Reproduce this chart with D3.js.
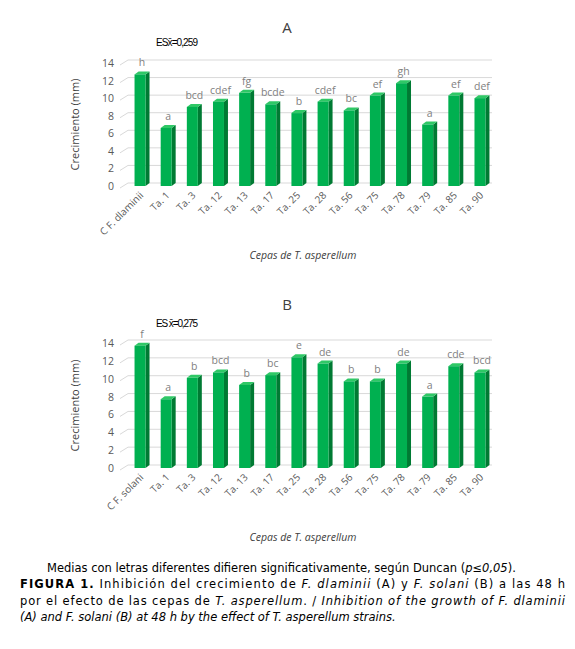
<!DOCTYPE html><html><head><meta charset="utf-8"><script src="https://cdn.jsdelivr.net/npm/d3@7"></script>
<style>body{margin:0;background:#fff;font-family:Verdana,"DejaVu Sans",sans-serif}</style></head><body><svg id="c" width="575" height="649"></svg>
<script>
const catsA=["C F. dlaminii","Ta. 1","Ta. 3","Ta. 12","Ta. 13","Ta. 17","Ta. 25","Ta. 28","Ta. 56","Ta. 75","Ta. 78","Ta. 79","Ta. 85","Ta. 90"];
const catsB=["C F. solani","Ta. 1","Ta. 3","Ta. 12","Ta. 13","Ta. 17","Ta. 25","Ta. 28","Ta. 56","Ta. 75","Ta. 78","Ta. 79","Ta. 85","Ta. 90"];
const valsA=[12.7,6.6,9.0,9.6,10.6,9.3,8.3,9.6,8.6,10.3,11.7,7.0,10.3,10.0];
const valsB=[13.7,7.7,10.1,10.7,9.3,10.4,12.4,11.7,9.7,9.7,11.7,8.0,11.4,10.7];
const letA=["h","a","bcd","cdef","fg","bcde","b","cdef","bc","ef","gh","a","ef","def"];
const letB=["f","a","b","bcd","b","bc","e","de","b","b","de","a","cde","bcd"];
const ticks=[0,2,4,6,8,10,12,14];
const svg=d3.select("#c");
const FF="'Open Sans','Noto Sans',sans-serif";
function chart(cats,vals,lets,y0,y14,title,es,titleY,esY){
  const g=svg.append("g");
  const x=d3.scaleBand().domain(cats).range([128,492]).paddingInner(0.58).paddingOuter(0.25);
  const y=d3.scaleLinear().domain([0,14]).range([y0,y14]);
  const dx=4,dy=3;
  ticks.forEach(t=>{
    g.append("line").attr("x1",128).attr("x2",492).attr("y1",y(t)-dy).attr("y2",y(t)-dy).attr("stroke","#d9d9d9");
    g.append("line").attr("x1",120).attr("x2",128).attr("y1",y(t)+2).attr("y2",y(t)-dy).attr("stroke","#d9d9d9");
    g.append("text").attr("x",114).attr("y",y(t)+4).attr("text-anchor","end").attr("font-size",10.5).attr("fill","#595959").attr("font-family",FF).text(t);
  });
  cats.forEach((c,i)=>{
    const bx=x(c),bw=x.bandwidth(),by=y(vals[i]);
    g.append("polygon").attr("points",`${bx+bw},${by} ${bx+bw+dx},${by-dy} ${bx+bw+dx},${y0-dy} ${bx+bw},${y0}`).attr("fill","#007a33");
    g.append("polygon").attr("points",`${bx},${by} ${bx+dx},${by-dy} ${bx+bw+dx},${by-dy} ${bx+bw},${by}`).attr("fill","#2fc866");
    g.append("rect").attr("x",bx).attr("y",by).attr("width",bw).attr("height",y0-by).attr("fill","#00b050");
    g.append("text").attr("x",bx+bw/2+2).attr("y",by-8).attr("text-anchor","middle").attr("font-size",10.5).attr("fill","#7f7f7f").attr("font-family",FF).text(lets[i]);
    g.append("text").attr("transform",`translate(${bx+bw/2+4},${y0+10}) rotate(-45)`).attr("text-anchor","end").attr("font-size",10).attr("fill","#595959").attr("font-family",FF).text(c);
  });
  g.append("text").attr("transform",`translate(79,${(y0+y14)/2}) rotate(-90)`).attr("text-anchor","middle").attr("font-size",11).attr("fill","#404040").attr("font-family",FF).text("Crecimiento (mm)");
  g.append("text").attr("x",287).attr("y",titleY).attr("text-anchor","middle").attr("font-size",15).attr("fill","#404040").attr("font-family",FF).text(title);
  g.append("text").attr("x",156).attr("y",esY).attr("font-size",10).attr("fill","#000").attr("font-family","'Liberation Sans Narrow','Liberation Sans',sans-serif").attr("textLength",42).text(es);
  g.append("text").attr("x",303).attr("y",y0+73).attr("text-anchor","middle").attr("font-size",10.5).attr("fill","#404040").attr("font-style","italic").attr("font-family",FF)
   .text('Cepas de T. asperellum');
}
chart(catsA,valsA,letA,186,63,"A","ESx̄=0,259",33,46);
chart(catsB,valsB,letB,468,343,"B","ES x̄=0,275",310,327);
const lines=[
 [["Medias con letras diferentes difieren significativamente, según Duncan (",""],["p≤0,05","i"],[").",""]],
 [["FIGURA 1.","b"],[" Inhibición del crecimiento de ",""],["F. dlaminii","i"],[" (A) y ",""],["F. solani","i"],[" (B) a las 48 h",""]],
 [["por el efecto de las cepas de ",""],["T. asperellum","i"],[". / ",""],["Inhibition of the growth of F. dlaminii","i"]],
 [["(A) and F. solani (B) at 48 h by the effect of T. asperellum strains.","i"]]];
const xs=[47,20,20,20],ys=[572,588,605,621];
lines.forEach((l,i)=>{const t=svg.append("text").attr("x",xs[i]).attr("y",ys[i]).attr("font-size",11.5);
 if(i==1||i==2)t.attr("textLength",545).attr("lengthAdjust","spacing");
 l.forEach(([s,f])=>{const sp=t.append("tspan").text(s);if(f=="i")sp.attr("font-style","italic");if(f=="b")sp.attr("font-weight","bold");});});
</script></body></html>
